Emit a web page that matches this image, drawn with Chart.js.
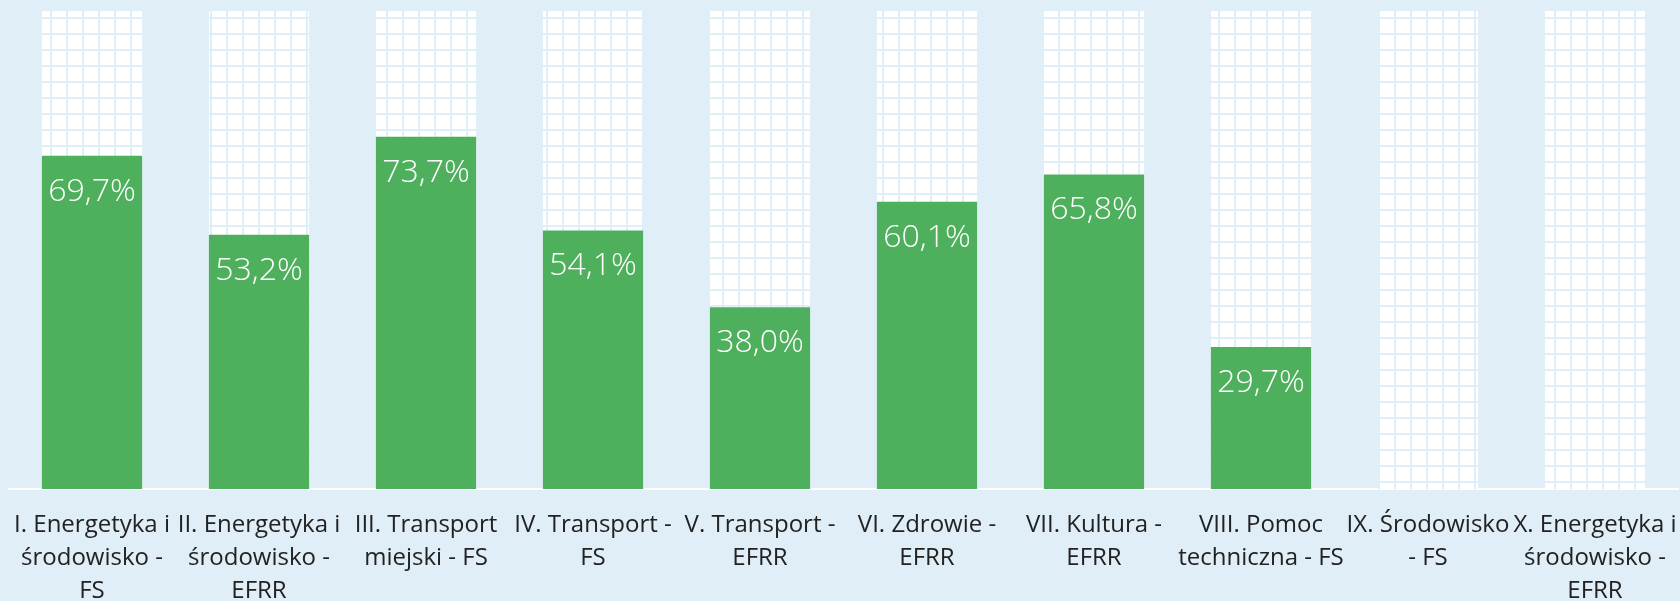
<!DOCTYPE html>
<html>
<head>
<meta charset="utf-8">
<script src="https://cdn.jsdelivr.net/npm/chart.js@4"></script>
<style>
  html, body { margin: 0; padding: 0; background: #e0eef7; }
  #wrap { width: 1680px; height: 601px; position: relative; }
</style>
</head>
<body>
<div id="wrap"><canvas id="myChart"></canvas></div>
<script>
const labels = [
  ['I. Energetyka i', 'środowisko -', 'FS'],
  ['II. Energetyka i', 'środowisko -', 'EFRR'],
  ['III. Transport', 'miejski - FS'],
  ['IV. Transport -', 'FS'],
  ['V. Transport -', 'EFRR'],
  ['VI. Zdrowie -', 'EFRR'],
  ['VII. Kultura -', 'EFRR'],
  ['VIII. Pomoc', 'techniczna - FS'],
  ['IX. Środowisko', '- FS'],
  ['X. Energetyka i', 'środowisko -', 'EFRR'],
];

// percent of allocation used
const values = [69.7, 53.2, 73.7, 54.1, 38.0, 60.1, 65.8, 29.7, null, null];
const full = [100, 100, 100, 100, 100, 100, 100, 100, 100, 100];

const BG = '#e0eef7';
const GREEN = '#4eb05c';

// white grid pattern for the 100% bars
const pc = document.createElement('canvas');
pc.width = 16;
pc.height = 16;
const pctx = pc.getContext('2d');
pctx.fillStyle = '#ffffff';
pctx.fillRect(0, 0, 16, 16);
pctx.fillStyle = BG;
pctx.fillRect(2, 0, 2, 16);
pctx.fillRect(0, 1, 16, 2);
const gridPattern = pctx.createPattern(pc, 'repeat');

const valueLabels = {
  id: 'valueLabels',
  afterDatasetsDraw(chart) {
    const ctx = chart.ctx;
    const meta = chart.getDatasetMeta(0);
    ctx.save();
    ctx.font = '300 32px "Open Sans"';
    ctx.fillStyle = '#ffffff';
    ctx.textAlign = 'center';
    ctx.textBaseline = 'alphabetic';
    meta.data.forEach((bar, i) => {
      const v = values[i];
      if (v === null) return;
      ctx.fillText(v.toFixed(1).replace('.', ',') + '%', bar.x, bar.y + 45);
    });
    ctx.restore();
  }
};

const data = {
  labels: labels,
  datasets: [{
    data: values,
    backgroundColor: GREEN,
    grouped: false,
    order: 0,
    categoryPercentage: 1,
    barPercentage: 0.6,
  }, {
    data: full,
    backgroundColor: gridPattern,
    grouped: false,
    order: 1,
    categoryPercentage: 1,
    barPercentage: 0.6,
  }]
};

const config = {
  type: 'bar',
  data: data,
  options: {
    responsive: true,
    maintainAspectRatio: false,
    animation: false,
    layout: { padding: { left: 8.5, right: 1.5, top: 11, bottom: 0 } },
    plugins: {
      legend: { display: false },
      tooltip: { enabled: false },
    },
    scales: {
      x: {
        z: 1,
        grid: { display: false, drawTicks: false },
        border: { display: true, color: '#ffffff', width: 2 },
        ticks: {
          autoSkip: false,
          maxRotation: 0,
          minRotation: 0,
          padding: 20,
          color: '#222222',
          font: { family: '"Open Sans"', size: 24, lineHeight: 1.375 },
        },
        afterFit(scale) {
          scale.height = 112;
          scale.paddingLeft = 0;
          scale.paddingRight = 0;
        },
      },
      y: {
        display: false,
        min: 0,
        max: 100,
      }
    }
  },
  plugins: [valueLabels]
};

if (document.getElementById('myChart')) {
  const myChart = new Chart(
    document.getElementById('myChart').getContext('2d'),
    config
  );
}
</script>
</body>
</html>
